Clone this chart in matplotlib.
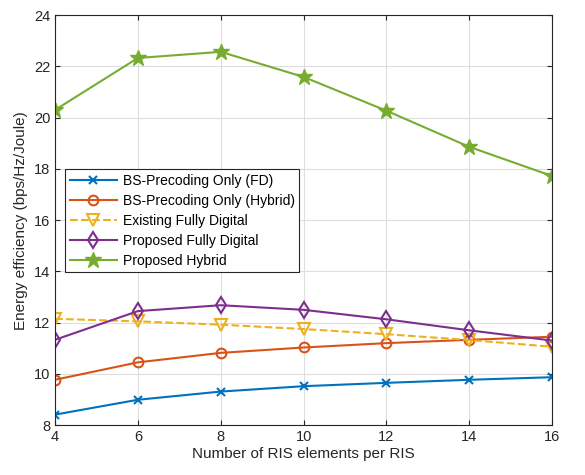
import matplotlib
matplotlib.use("Agg")
import matplotlib.pyplot as plt

plt.rcParams['font.family'] = ['Liberation Sans', 'DejaVu Sans']

# number of RIS elements per RIS
n_elem = [4, 6, 8, 10, 12, 14, 16]

# energy efficiency (bps/Hz/Joule)
bs_fd = [8.41, 8.99, 9.31, 9.52, 9.65, 9.77, 9.87]
bs_hybrid = [9.77, 10.45, 10.82, 11.03, 11.20, 11.33, 11.45]
existing_fd = [12.15, 12.05, 11.92, 11.75, 11.55, 11.32, 11.06]
proposed_fd = [11.33, 12.45, 12.68, 12.50, 12.13, 11.70, 11.30]
proposed_hybrid = [20.30, 22.33, 22.57, 21.59, 20.27, 18.86, 17.72]

labels = ['BS-Precoding Only (FD)', 'BS-Precoding Only (Hybrid)',
          'Existing Fully Digital', 'Proposed Fully Digital', 'Proposed Hybrid']

fig = plt.figure(figsize=(5.85, 4.75), dpi=100)
ax = fig.add_axes([0.094, 0.105, 0.85, 0.863])

lw = 1.5
ax.plot(n_elem, bs_fd, '-x', color=(0, 0.447, 0.741), lw=lw, ms=5.5, mew=1.5, label=labels[0])
ax.plot(n_elem, bs_hybrid, '-o', color=(0.85, 0.325, 0.098), lw=lw, ms=7, mew=1.5,
        mfc='none', label=labels[1])
ax.plot(n_elem, existing_fd, '--v', color=(0.929, 0.694, 0.125), lw=lw, ms=8, mew=1.5,
        mfc='none', label=labels[2])
ax.plot(n_elem, proposed_fd, '-d', color=(0.494, 0.184, 0.556), lw=lw, ms=8.5, mew=1.5,
        mfc='none', label=labels[3])
ax.plot(n_elem, proposed_hybrid, '-*', color=(0.466, 0.674, 0.188), lw=lw, ms=12, mew=1.0,
        label=labels[4])

ax.set_xlim(4, 16)
ax.set_ylim(8, 24)
ax.set_xticks(range(4, 17, 2))
ax.set_yticks(range(8, 25, 2))
ax.grid(True, color=(0.87, 0.87, 0.87), lw=0.8)
ax.set_axisbelow(True)
ax.tick_params(direction='in', top=True, right=True, labelsize=10.5, colors=(0.15, 0.15, 0.15))
for s in ax.spines.values():
    s.set_color((0.15, 0.15, 0.15))
    s.set_linewidth(0.8)

ax.set_xlabel('Number of RIS elements per RIS', fontsize=11, color=(0.15, 0.15, 0.15), labelpad=2)
ax.set_ylabel('Energy efficiency (bps/Hz/Joule)', fontsize=11, color=(0.15, 0.15, 0.15), labelpad=4)

leg = ax.legend(loc='upper left', bbox_to_anchor=(0.02, 0.624), fontsize=10,
                fancybox=False, framealpha=1, edgecolor=(0.15, 0.15, 0.15),
                handlelength=3.4, borderpad=0.35, labelspacing=0.42, handletextpad=0.4,
                borderaxespad=0)
leg.get_frame().set_linewidth(0.8)

fig.savefig('out.png', dpi=100)
